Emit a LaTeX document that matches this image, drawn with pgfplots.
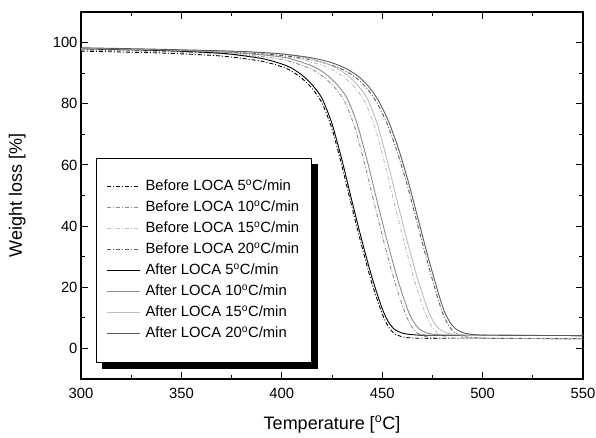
\documentclass[border=0pt]{standalone}
\usepackage{pgfplots}
\pgfplotsset{compat=1.18}
\usepackage{fontspec}
\setmainfont{Liberation Sans}
\usetikzlibrary{backgrounds}
\definecolor{cA}{gray}{0.55}
\definecolor{cB}{gray}{0.74}
\definecolor{cC}{gray}{0.36}
\begin{document}
\begin{tikzpicture}
\path[use as bounding box] (-81pt,-59pt) rectangle (515pt,379pt);
\begin{axis}[
  at={(0pt,0pt)}, anchor=south west,
  scale only axis, width=502pt, height=367pt,
  xmin=300, xmax=550, ymin=-10, ymax=110,
  xtick={300,350,...,550}, minor x tick num=1,
  ytick={0,20,...,100}, minor y tick num=1,
  tick align=inside, tick pos=both,
  major tick length=7pt, minor tick length=4pt,
  axis line style={line width=1.1pt},
  every tick/.style={line width=0.9pt, black},
  /pgf/number format/assume math mode=true,
  tick label style={font=\fontsize{14.8}{14.8}\selectfont},
  xticklabel style={yshift=-6pt},
  xlabel={Temperature [\textsuperscript{o}C]},
  ylabel={Weight loss [\%]},
  every axis x label/.style={at={(rel axis cs:0.5,-0.124)}, anchor=center, font=\fontsize{18}{18}\selectfont},
  every axis y label/.style={at={(rel axis cs:-0.127,0.5)}, anchor=center, rotate=90, font=\fontsize{18}{18}\selectfont},
  legend cell align=left,
  legend image code/.code={\draw[#1] (0pt,0pt) -- (33pt,0pt); \path (36pt,0pt);},
  legend style={name=leg, at={(rel axis cs:0.0305,0.6022)}, anchor=north west,
    draw=black, line width=0.8pt, fill=white,
    font=\fontsize{14.8}{17}\selectfont,
    inner xsep=10pt, inner ysep=21pt, row sep=6pt,
    nodes={text height=11pt, text depth=4pt, inner ysep=0pt}},
  every axis plot/.append style={line width=0.9pt, smooth, tension=0.4},
]
\pgfplotsset{dd/.style={dash pattern=on 4pt off 2pt on 1pt off 2pt}}
% Before LOCA 5
\addplot[black, dd] coordinates {(300,97.2)(340,96.6)(370,95.6)(390,93.9)(400,92.1)(405,90.6)(410,88.3)(415,85.1)(420,80.3)(425,71.8)(430,59.5)(435,46)(440,33)(445,21)(450,11.3)(453,7.2)(456,4.9)(460,3.8)(465,3.4)(475,3.3)(550,3.2)};
\addlegendentry{Before LOCA 5\textsuperscript{o}C/min}
% Before LOCA 10
\addplot[cA, dd] coordinates {(300,97.6)(340,97.1)(370,96.4)(390,95.4)(401.5,94.3)(411.5,92.2)(416.5,90.7)(421.5,88.4)(426.5,85.2)(431.5,80.5)(436.5,72)(441.5,59.8)(446.5,46.2)(451.5,33.2)(456.5,21.2)(461.5,11.4)(464.5,7.3)(467.5,5.0)(471.5,3.9)(476.5,3.4)(486.5,3.3)(550,3.2)};
\addlegendentry{Before LOCA 10\textsuperscript{o}C/min}
% Before LOCA 15
\addplot[cB, dd] coordinates {(300,97.8)(340,97.3)(380,96.5)(400,95.6)(411.5,94.3)(421.5,92.2)(426.5,90.7)(431.5,88.4)(436.5,85.2)(441.5,80.5)(446.5,72)(451.5,59.8)(456.5,46.2)(461.5,33.2)(466.5,21.2)(471.5,11.4)(474.5,7.3)(477.5,5.0)(481.5,3.9)(486.5,3.4)(496.5,3.3)(550,3.2)};
\addlegendentry{Before LOCA 15\textsuperscript{o}C/min}
% Before LOCA 20
\addplot[cC, dd] coordinates {(300,98.0)(340,97.5)(380,96.7)(400,95.8)(414.5,94.4)(424.5,92.7)(431.5,90.8)(437.5,88.2)(442.5,84.9)(447.5,80.2)(452.5,73.4)(457.5,64.3)(462.5,53.3)(467.5,40.8)(472.5,28.3)(477.5,16.8)(480.5,10.8)(483.5,7.1)(486.5,5.0)(490.5,3.9)(495.5,3.5)(505,3.3)(550,3.2)};
\addlegendentry{Before LOCA 20\textsuperscript{o}C/min}
% After LOCA 5
\addplot[black] coordinates {(300,98.0)(340,97.4)(370,96.5)(390,94.8)(400,93.0)(405,91.6)(410,89.4)(415,86.3)(420,81.8)(425,73.5)(430,61.5)(435,48)(440,35)(445,23)(450,13)(453,8.8)(456,6.3)(460,5.0)(465,4.5)(475,4.3)(550,4.2)};
\addlegendentry{After LOCA 5\textsuperscript{o}C/min}
% After LOCA 10
\addplot[cA] coordinates {(300,98.1)(340,97.6)(370,96.9)(390,96.0)(402.5,95.0)(412.5,93.0)(417.5,91.6)(422.5,89.4)(427.5,86.3)(432.5,81.8)(437.5,73.5)(442.5,61.5)(447.5,48)(452.5,35)(457.5,23)(462.5,13)(465.5,8.8)(468.5,6.3)(472.5,5.0)(477.5,4.5)(487.5,4.3)(550,4.2)};
\addlegendentry{After LOCA 10\textsuperscript{o}C/min}
% After LOCA 15
\addplot[cB] coordinates {(300,98.2)(340,97.7)(380,97.0)(400,96.2)(412.5,95.0)(422.5,93.0)(427.5,91.6)(432.5,89.4)(437.5,86.3)(442.5,81.8)(447.5,73.5)(452.5,61.5)(457.5,48)(462.5,35)(467.5,23)(472.5,13)(475.5,8.8)(478.5,6.3)(482.5,5.0)(487.5,4.5)(497.5,4.3)(550,4.2)};
\addlegendentry{After LOCA 15\textsuperscript{o}C/min}
% After LOCA 20
\addplot[cC] coordinates {(300,98.3)(340,97.8)(380,97.1)(400,96.3)(415,95.0)(425,93.4)(432,91.5)(438,89.0)(443,85.8)(448,81.2)(453,74.5)(458,65.5)(463,54.5)(468,42)(473,29.5)(478,18)(481,12)(484,8.3)(487,6.2)(491,5.0)(496,4.5)(505,4.3)(550,4.2)};
\addlegendentry{After LOCA 20\textsuperscript{o}C/min}
\end{axis}
\begin{pgfonlayer}{background}
\fill[black] ([xshift=6pt,yshift=-6pt]leg.south west) rectangle ([xshift=6pt,yshift=-6pt]leg.north east);
\end{pgfonlayer}
\end{tikzpicture}
\end{document}
